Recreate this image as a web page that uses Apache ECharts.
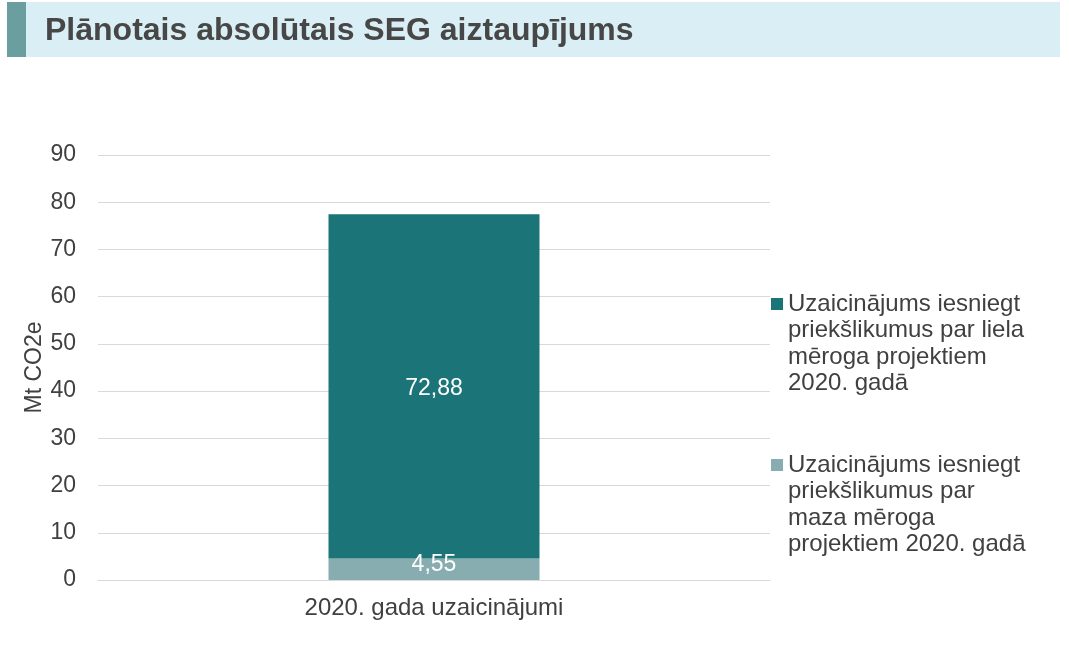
<!DOCTYPE html>
<html>
<head>
<meta charset="utf-8">
<script src="https://cdn.jsdelivr.net/npm/echarts@6/dist/echarts.min.js"></script>
<style>
  html, body { margin: 0; padding: 0; background: #fff; }
  #chart { width: 1069px; height: 649px; }
</style>
</head>
<body>
<div id="chart"></div>
<script>
const titleText = 'Plānotais absolūtais SEG aiztaupījums'
const categories = ['2020. gada uzaicinājumi']
const smallName = 'Uzaicinājums iesniegt\npriekšlikumus par\nmaza mēroga\nprojektiem 2020. gadā'
const largeName = 'Uzaicinājums iesniegt\npriekšlikumus par liela\nmēroga projektiem\n2020. gadā'
const smallValues = [4.55]
const largeValues = [72.88]
const yTicks = [0, 10, 20, 30, 40, 50, 60, 70, 80, 90]
const colors = ['#88adb0', '#1b7477']

const font = 'Arial, "Liberation Sans", sans-serif'
const chart = echarts.init(document.getElementById('chart'), null, { renderer: 'canvas' })

// decimal comma like the source
function fmt(p) {
  return p.value.toFixed(2).replace('.', ',')
}

// 4 text lines tall; square sits next to the first line
const lineH = 26.5
const blockH = lineH * 4
const legendIcon = 'path://M0,0L0.01,0Z M0,7L12,7L12,19L0,19Z M0,' + blockH + 'L0.01,' + blockH + 'Z'

const legendBase = {
  orient: 'vertical',
  left: 766,
  icon: legendIcon,
  itemWidth: 12,
  itemHeight: blockH,
  itemGap: 0,
  textStyle: {
    color: '#404040',
    fontSize: 24,
    fontFamily: font,
    lineHeight: lineH
  }
}

var option = {
  color: colors,
  animation: false,
  graphic: [{
    type: 'rect',
    shape: { x: 7, y: 2, width: 1053, height: 55 },
    style: { fill: '#daeff5' }
  }, {
    type: 'rect',
    shape: { x: 7, y: 2, width: 19, height: 55 },
    style: { fill: '#6b9e9f' }
  }, {
    type: 'text',
    left: 45,
    top: 15,
    style: {
      text: titleText,
      fontSize: 32,
      fontWeight: 'bold',
      fontFamily: font,
      fill: '#474747'
    }
  }],
  grid: {
    left: 98,
    right: 299,
    top: 155,
    bottom: 69
  },
  legend: [
    Object.assign({}, legendBase, { data: [largeName], top: 286 }),
    Object.assign({}, legendBase, { data: [smallName], top: 447 })
  ],
  xAxis: {
    type: 'category',
    data: categories,
    axisLine: { lineStyle: { color: '#d9d9d9' } },
    axisTick: { show: false },
    axisLabel: {
      color: '#404040',
      fontSize: 24,
      fontFamily: font,
      margin: 16
    }
  },
  yAxis: {
    type: 'value',
    min: yTicks[0],
    max: yTicks[yTicks.length - 1],
    interval: 10,
    name: 'Mt CO2e',
    nameLocation: 'middle',
    nameRotate: 90,
    nameGap: 52,
    nameMoveOverlap: false,
    nameTextStyle: {
      color: '#404040',
      fontSize: 23,
      fontFamily: font
    },
    axisLabel: {
      color: '#404040',
      fontSize: 23,
      fontFamily: font,
      margin: 22
    },
    splitLine: { lineStyle: { color: '#d9d9d9' } }
  },
  series: [{
    name: smallName,
    type: 'bar',
    stack: 'total',
    data: smallValues,
    barWidth: 211,
    label: {
      show: true,
      position: 'inside',
      offset: [0, -5],
      color: '#fff',
      fontSize: 23,
      fontFamily: font,
      formatter: fmt
    }
  }, {
    name: largeName,
    type: 'bar',
    stack: 'total',
    data: largeValues,
    barWidth: 211,
    label: {
      show: true,
      position: 'inside',
      offset: [0, 2],
      color: '#fff',
      fontSize: 23,
      fontFamily: font,
      formatter: fmt
    }
  }]
};

chart.setOption(option);
</script>
</body>
</html>
